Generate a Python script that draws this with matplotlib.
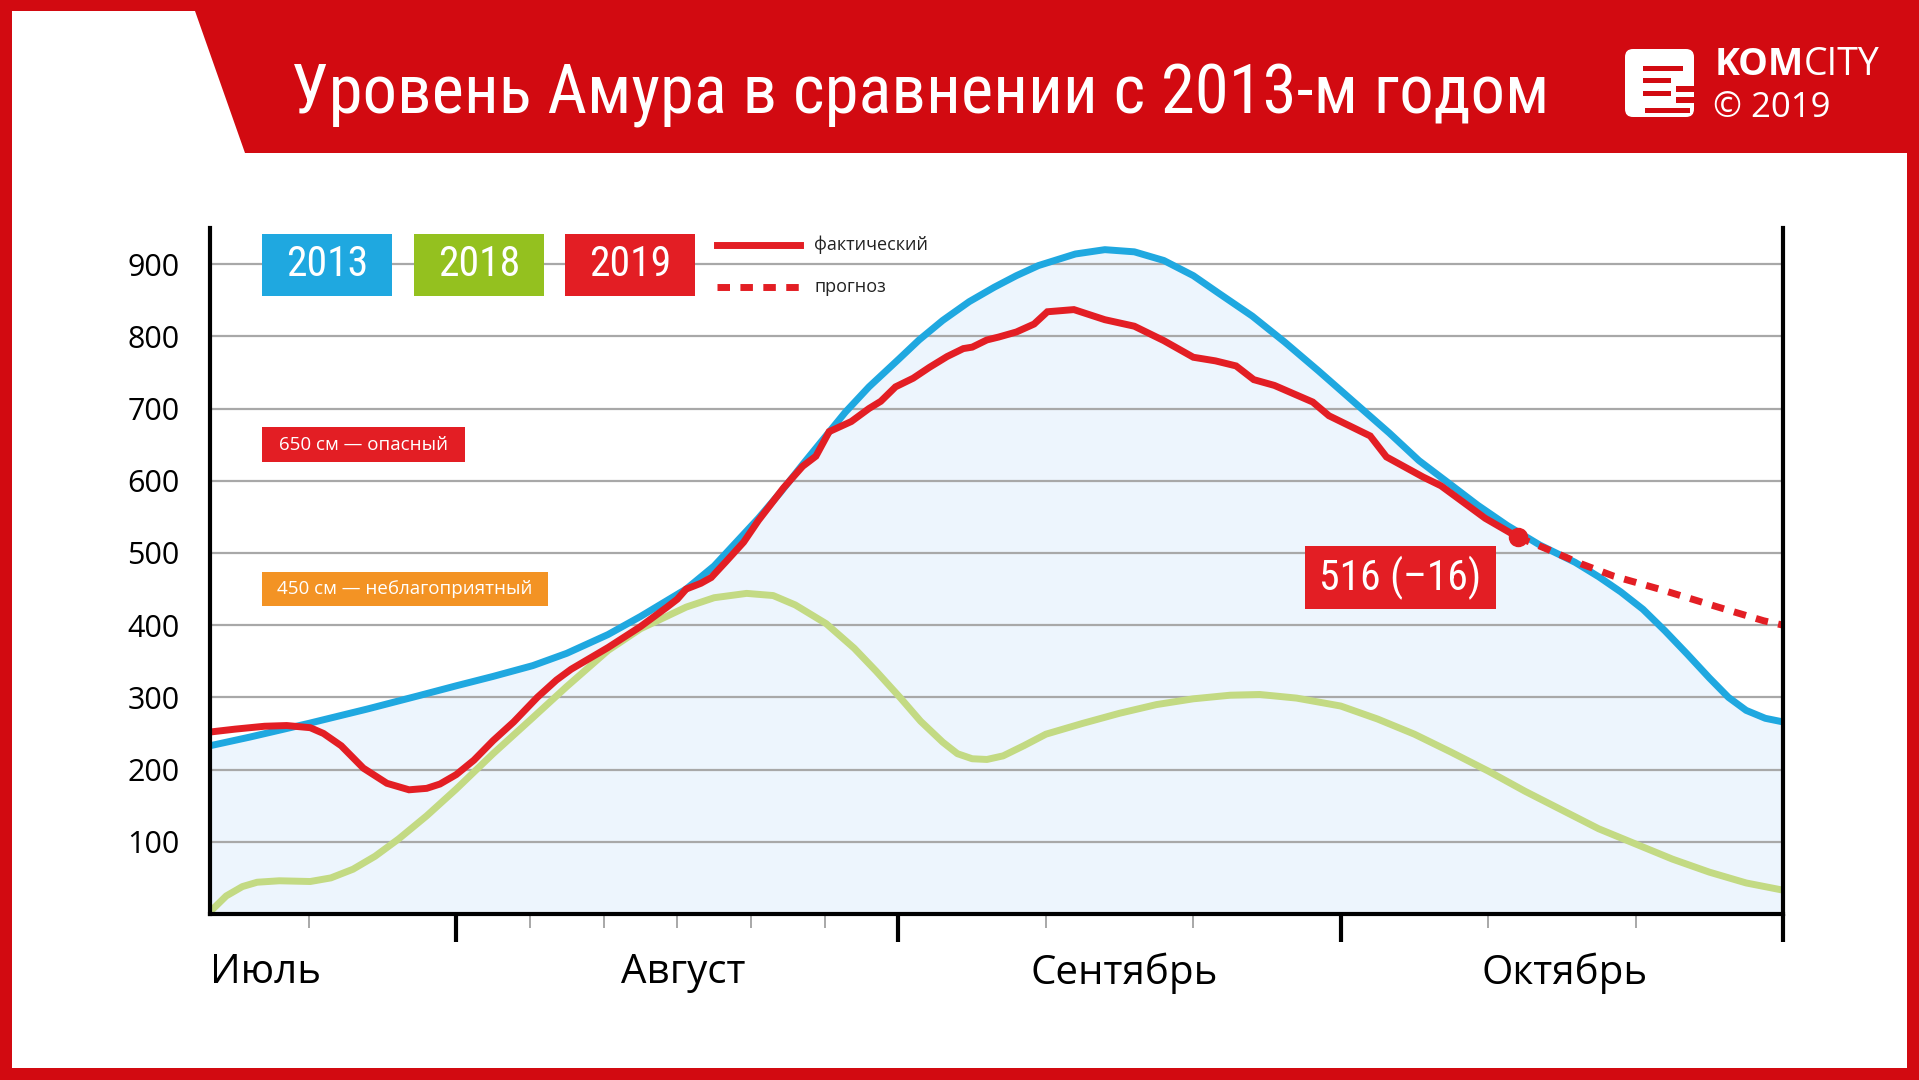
import matplotlib
matplotlib.use("Agg")
import matplotlib.pyplot as plt
from matplotlib import font_manager as fm
from matplotlib.patches import Polygon, Rectangle, FancyBboxPatch
from matplotlib.lines import Line2D
import matplotlib.transforms as mtransforms

# x = day counter: 30 = 1 Aug, 60 = 1 Sep, 90 = 1 Oct, 120 = end of Oct
days_2013 = [13.3, 16, 20, 24, 27.4, 30, 32.5, 35.2, 37.5, 40.3, 42.5, 45.6, 47.5, 49, 50.5,
             52, 53.6, 55, 56.4, 58, 60, 61.4, 63, 64.8, 66.5, 68, 69.5, 72, 74, 76, 78, 80,
             81.7, 84, 86.2, 88.5, 91.4, 93.3, 95.3, 97.5, 99.3, 101.3, 103.5, 105.9, 107.5,
             109, 110.5, 112, 113.5, 115, 116.3, 117.5, 118.8, 120]
lvl_2013 = [233, 245, 264, 284, 302, 316, 329, 344, 361, 387, 412, 450, 482, 515, 548,
            584, 625, 660, 695, 730, 768, 795, 822, 848, 868, 884, 898, 914, 920, 917, 905, 884,
            860, 828, 792, 752, 700, 666, 628, 594, 566, 538, 511, 487, 467,
            446, 422, 392, 360, 327, 300, 282, 271, 266]

days_2018 = [13.3, 14.4, 15.5, 16.5, 18, 20.1, 21.5, 23, 24.5, 26.1, 28, 30, 32.5, 35.2, 37.5,
             40.3, 42.5, 45.6, 47.5, 49.7, 51.5, 53, 55.1, 57, 58.5, 60.1, 61.5, 63, 64, 65, 66,
             67.1, 68.5, 70, 72.5, 75, 77.5, 80, 82.5, 84.5, 87, 90, 92.5, 95, 97.5, 100, 102.5,
             105, 107.5, 110, 112.5, 115, 117.5, 120]
lvl_2018 = [3, 25, 38, 44, 46, 45, 50, 62, 80, 104, 136, 173, 222, 272, 315,
            365, 395, 425, 438, 444, 441, 428, 402, 368, 336, 300, 267, 238, 222, 215, 214,
            219, 233, 249, 264, 278, 290, 298, 303, 304, 299, 288, 270, 249, 224, 198, 170,
            144, 118, 97, 76, 58, 43, 33]

days_2019 = [13.3, 15, 17, 18.5, 20.1, 21, 22.2, 23.7, 25.3, 26.8, 28, 28.9, 30, 31.2, 32.5,
             33.9, 35.5, 36.8, 37.8, 40.3, 42.5, 44.3, 45, 45.6, 46.6, 47.3, 48.3, 49.5, 50.5,
             52.2, 53.5, 54.4, 55.3, 56.8, 58, 58.8, 59.8, 61, 62.1, 63.3, 64.4, 65, 66, 66.8,
             68, 69.2, 70.1, 71.9, 74, 76, 78, 80, 81.5, 82.9, 84.1, 85.5, 88.1, 89.2, 92,
             93.1, 95.6, 96.8, 99.8, 102]
lvl_2019 = [252, 256, 260, 261, 258, 250, 233, 202, 181, 172, 174, 180, 193, 213, 240,
            266, 300, 324, 339, 369, 398, 425, 436, 450, 458, 466, 488, 515, 545,
            590, 620, 634, 668, 682, 700, 710, 730, 742, 757, 772, 783, 785, 795, 799,
            806, 817, 834, 837, 823, 814, 794, 771, 766, 759, 740, 732, 709, 690, 662,
            633, 605, 593, 548, 522]

days_forecast = [102, 103.8, 106.3, 108.5, 111.6, 115.6, 118.7, 120]
lvl_forecast = [522, 507, 485, 468, 450, 425, 406, 400]

last_day, last_lvl = 102, 522
last_label = "516 (–16)"

y_ticks = [100, 200, 300, 400, 500, 600, 700, 800, 900]
month_edges = [30, 60, 90, 120]
minor_days = [20, 35, 40, 45, 50, 55, 70, 80, 100, 110]
month_names = ["Июль", "Август", "Сентябрь", "Октябрь"]
month_centers = [13.3, 45.4, 75.3, 105.2]
years = ["2013", "2018", "2019"]
thresholds = [(650, "650 см — опасный"), (450, "450 см — неблагоприятный")]

title = "Уровень Амура в сравнении с 2013-м годом"

FRAME = "#D20A11"
RED = "#E31E24"
BLUE = "#1FA8E0"
GREEN_LINE = "#C3DA83"
GREEN_BOX = "#94C11F"
ORANGE = "#F39324"
FILL = "#EDF5FD"
GRID = "#A8A8A8"

SANS = ["Open Sans", "DejaVu Sans"]


def condensed_path():
    # look for a narrow sans face among the installed fonts
    prefs = ["Roboto Condensed", "Open Sans Condensed", "Liberation Sans Narrow",
             "Noto Sans", "Open Sans", "Roboto", "DejaVu Sans"]
    narrow = []
    for f in fm.fontManager.ttflist:
        st = str(f.stretch).lower()
        is_narrow = ("condensed" in st or "narrow" in f.name.lower()
                     or "condensed" in f.name.lower()
                     or (st.isdigit() and int(st) < 500))
        w = str(f.weight).lower()
        if is_narrow and f.style == "normal" and w in ("400", "normal", "regular", "book"):
            narrow.append(f)
    for p in prefs:
        for f in narrow:
            if f.name.startswith(p):
                return f.fname
    return narrow[0].fname if narrow else None


_cp = condensed_path()


def cond(size):
    if _cp:
        return fm.FontProperties(fname=_cp, size=size)
    return fm.FontProperties(family="DejaVu Sans", size=size)


fig = plt.figure(figsize=(19.19, 10.80), dpi=100, facecolor=FRAME)

# background / frame in pixel coordinates
bg = fig.add_axes([0, 0, 1, 1])
bg.set_xlim(0, 1919)
bg.set_ylim(1080, 0)
bg.axis("off")
bg.add_patch(Polygon([(12, 11), (195, 11), (245, 153), (1907, 153), (1907, 1068), (12, 1068)],
                     closed=True, fc="white", ec="none"))

renderer = fig.canvas.get_renderer()


def fit_width(t, w):
    ext = t.get_window_extent(renderer)
    t.set_fontsize(t.get_fontsize() * w / ext.width)


t = bg.text(291, 113, title, ha="left", va="baseline", color="white", fontproperties=cond(58))
fit_width(t, 1257)

# logo
bg.add_patch(FancyBboxPatch((1625, 49), 69, 68, boxstyle="round,pad=0,rounding_size=8",
                            fc="white", ec="none"))
for x0, x1, y0, h in [(1643, 1683, 66, 5), (1643, 1671, 78, 5), (1676, 1695, 86, 6),
                      (1643, 1671, 91, 5), (1676, 1695, 97, 6), (1645, 1690, 108, 5)]:
    bg.add_patch(Rectangle((x0, y0), x1 - x0, h, fc=FRAME, ec="none"))
k = bg.text(1715, 75, "KOM", ha="left", va="baseline", color="white", fontsize=27,
            fontweight="bold", family=SANS)
kx = k.get_window_extent(renderer).x1
bg.text(kx, 1080 - 75, "CITY", ha="left", va="baseline", color="white", fontsize=27,
        family=SANS, transform=None)
bg.text(1713, 117, "© 2019", ha="left", va="baseline", color="white", fontsize=25, family=SANS)

# main chart
ax = fig.add_axes([210 / 1919, 166 / 1080, 1573 / 1919, 686 / 1080])
ax.patch.set_alpha(0)
ax.set_xlim(13.3, 120)
ax.set_ylim(0, 950)

ax.fill_between(days_2013, lvl_2013, 0, color=FILL, lw=0, zorder=1)
for v in y_ticks:
    ax.axhline(v, color=GRID, lw=1.6, zorder=2)

ax.plot(days_2018, lvl_2018, color=GREEN_LINE, lw=5, solid_capstyle="round",
        solid_joinstyle="round", zorder=4)
ax.plot(days_2013, lvl_2013, color=BLUE, lw=5, solid_capstyle="round",
        solid_joinstyle="round", zorder=5)
ax.plot(days_forecast, lvl_forecast, color=RED, lw=5, ls=(0, (1.8, 1.5)),
        dash_capstyle="butt", zorder=6)
ax.plot(days_2019, lvl_2019, color=RED, lw=5, solid_capstyle="round",
        solid_joinstyle="miter", zorder=7)
ax.plot([last_day], [last_lvl], "o", color=RED, ms=13, zorder=8)

for s in ["left", "bottom", "right"]:
    ax.spines[s].set_linewidth(3)
    ax.spines[s].set_color("black")
    ax.spines[s].set_zorder(10)
ax.spines["top"].set_visible(False)

ax.set_yticks(y_ticks)
ax.set_yticklabels([str(v) for v in y_ticks], fontsize=22, family=SANS)
ax.tick_params(axis="y", length=0, pad=22)
ax.set_xticks(month_edges)
ax.set_xticklabels([])
ax.set_xticks(minor_days, minor=True)
ax.tick_params(axis="x", which="major", length=20, width=3, color="black")
ax.tick_params(axis="x", which="minor", length=10, width=1.2, color="#9A9A9A")

blend = mtransforms.blended_transform_factory(ax.transData, ax.transAxes)
for i, (name, xc) in enumerate(zip(month_names, month_centers)):
    ax.text(xc, -0.086, name, transform=blend, ha="left" if i == 0 else "center",
            va="center", fontsize=29, family=SANS, color="black")

# year legend boxes
box_x = [0.0331, 0.1297, 0.2257]
for x0, yr, c in zip(box_x, years, [BLUE, GREEN_BOX, RED]):
    ax.add_patch(Rectangle((x0, 0.9009), 0.0826, 0.0904, transform=ax.transAxes,
                           fc=c, ec="none", zorder=11, clip_on=False))
    ax.text(x0 + 0.0413, 0.9461, yr, transform=ax.transAxes, ha="center", va="center",
            color="white", fontproperties=cond(30), zorder=12)

ax.add_line(Line2D([0.3226, 0.3751], [0.9752, 0.9752], transform=ax.transAxes,
                   color=RED, lw=5, zorder=11, clip_on=False))
ax.add_line(Line2D([0.3226, 0.3751], [0.914, 0.914], transform=ax.transAxes,
                   color=RED, lw=5, ls=(0, (1.8, 1.5)), dash_capstyle="butt",
                   zorder=11, clip_on=False))
ax.text(0.384, 0.9752, "фактический", transform=ax.transAxes, ha="left", va="center",
        fontsize=13, family=SANS, color="#222222", zorder=12)
ax.text(0.384, 0.914, "прогноз", transform=ax.transAxes, ha="left", va="center",
        fontsize=13, family=SANS, color="#222222", zorder=12)

# threshold labels (placed at their level)
ylev = mtransforms.blended_transform_factory(ax.transAxes, ax.transData)
for (lvl, txt), w, c in zip(thresholds, [0.129, 0.1818], [RED, ORANGE]):
    ax.add_patch(Rectangle((0.0331, lvl - 24), w, 48, transform=ylev,
                           fc=c, ec="none", zorder=11))
    ax.text(0.0331 + w / 2, lvl, txt, transform=ylev,
            ha="center", va="center", color="white", fontsize=13.5, family=SANS, zorder=12)

# last value label
ax.add_patch(Rectangle((0.6961, 0.4446), 0.1214, 0.0918, transform=ax.transAxes,
                       fc=RED, ec="none", zorder=11))
ax.text(0.6961 + 0.0607, 0.4905, last_label, transform=ax.transAxes, ha="center",
        va="center", color="white", fontproperties=cond(30), zorder=12)

fig.savefig("out.png", dpi=100, facecolor=FRAME)
